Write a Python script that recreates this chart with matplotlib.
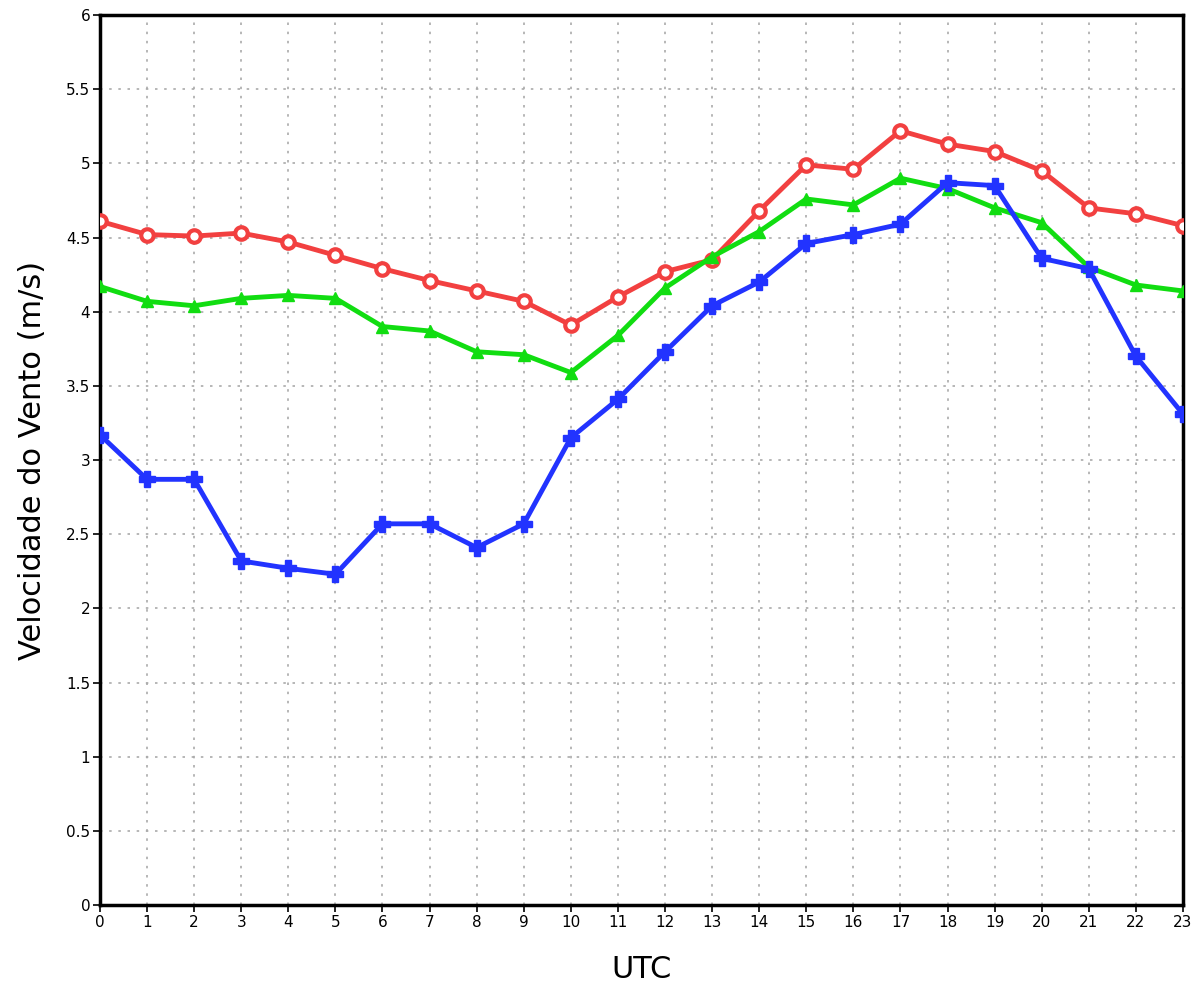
import matplotlib
matplotlib.use("Agg")
import matplotlib.pyplot as plt
from matplotlib.ticker import MultipleLocator

hours = list(range(24))
red = [4.61, 4.52, 4.51, 4.53, 4.47, 4.38, 4.29, 4.21, 4.14, 4.07, 3.91, 4.10,
       4.27, 4.35, 4.68, 4.99, 4.96, 5.22, 5.13, 5.08, 4.95, 4.70, 4.66, 4.58]
green = [4.17, 4.07, 4.04, 4.09, 4.11, 4.09, 3.90, 3.87, 3.73, 3.71, 3.59, 3.84,
         4.16, 4.37, 4.54, 4.76, 4.72, 4.90, 4.83, 4.70, 4.60, 4.30, 4.18, 4.14]
blue = [3.17, 2.87, 2.87, 2.32, 2.27, 2.23, 2.57, 2.57, 2.41, 2.57, 3.15, 3.41,
        3.73, 4.04, 4.20, 4.46, 4.52, 4.59, 4.87, 4.85, 4.36, 4.29, 3.70, 3.31]
yticks = [0, 0.5, 1, 1.5, 2, 2.5, 3, 3.5, 4, 4.5, 5, 5.5, 6]
ytick_labels = ["0", "0.5", "1", "1.5", "2", "2.5", "3", "3.5", "4", "4.5", "5", "5.5", "6"]

fig = plt.figure(figsize=(12, 9.83), dpi=100)
ax = fig.add_axes([0.0833, 0.0793, 0.9025, 0.9054])

ax.plot(hours, red, color="#f24040", lw=3.5, marker="o", ms=9, mfc="white",
        mec="#f24040", mew=3, zorder=3)
ax.plot(hours, green, color="#11dd11", lw=3.5, marker="^", ms=9, mfc="#11dd11",
        mec="#11dd11", zorder=3)
ax.plot(hours, blue, color="#2233ff", lw=3.5, marker="P", ms=11, mfc="#2233ff",
        mec="#2233ff", zorder=4)

ax.set_xlim(0, 23)
ax.set_ylim(0, 6)
ax.set_xticks(hours)
ax.set_xticklabels([str(h) for h in hours], fontsize=11)
ax.set_yticks(yticks)
ax.set_yticklabels(ytick_labels, fontsize=11)
ax.tick_params(direction="out", length=5, width=1.2, pad=2)
ax.grid(True, color="#aaaaaa", linestyle=(0, (1.5, 4)), lw=1.2)
for s in ax.spines.values():
    s.set_linewidth(2.5)
    s.set_color("black")

ax.set_xlabel("UTC", fontsize=22, labelpad=18)
ax.set_ylabel("Velocidade do Vento (m/s)", fontsize=22, labelpad=14)

fig.savefig("out.png", dpi=100)
